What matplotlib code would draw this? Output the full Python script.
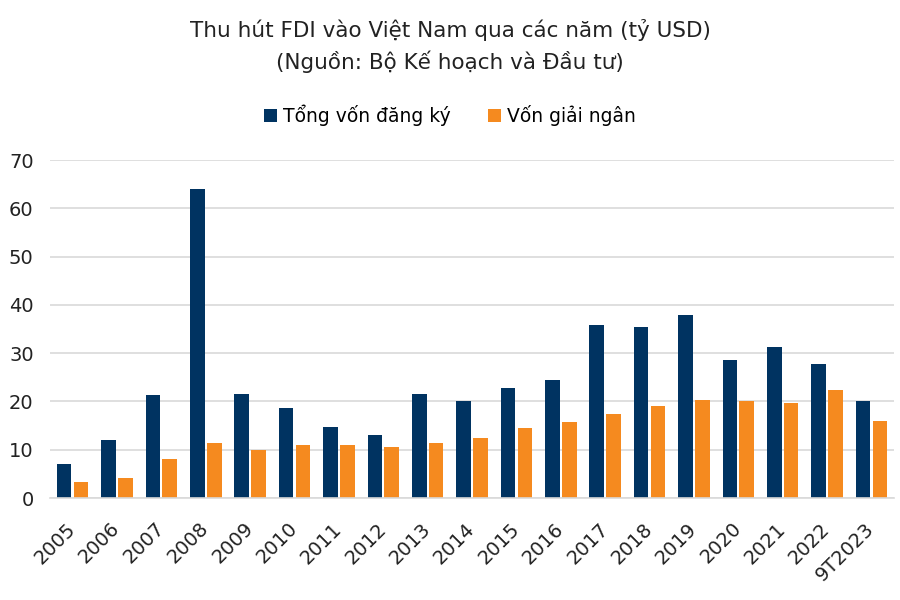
import numpy as np
import matplotlib.pyplot as plt

# Dữ liệu (tỷ USD)
years = ['2005', '2006', '2007', '2008', '2009', '2010', '2011', '2012', '2013',
         '2014', '2015', '2016', '2017', '2018', '2019', '2020', '2021', '2022', '9T2023']
dang_ky = [7.0, 12.0, 21.3, 64.0, 21.5, 18.6, 14.7, 13.0, 21.6,
           20.2, 22.8, 24.4, 35.9, 35.5, 38.0, 28.5, 31.2, 27.7, 20.2]
giai_ngan = [3.3, 4.1, 8.0, 11.5, 10.0, 11.0, 11.0, 10.5, 11.5,
             12.5, 14.5, 15.8, 17.5, 19.1, 20.4, 20.0, 19.7, 22.4, 15.9]

plt.rcParams['font.family'] = ['DejaVu Sans']

fig = plt.figure(figsize=(9, 6), dpi=100)
ax = fig.add_axes([0.056, 0.17, 0.937, 0.563])

x = np.arange(len(years))
w = 0.33
ax.bar(x - 0.19, dang_ky, w, color='#003361', label='Tổng vốn đăng ký')
ax.bar(x + 0.19, giai_ngan, w, color='#F58A1F', label='Vốn giải ngân')

ax.set_xlim(-0.5, len(years) - 0.5)
ax.set_ylim(0, 70)
ax.set_yticks(range(0, 71, 10))
ax.yaxis.grid(True, color='#d9d9d9', linewidth=1.2)
ax.set_axisbelow(True)
for s in ['top', 'right', 'left']:
    ax.spines[s].set_visible(False)
ax.spines['bottom'].set_color('#d9d9d9')
ax.spines['bottom'].set_linewidth(1.2)
ax.tick_params(axis='both', length=0, labelsize=14, colors='#222222')
ax.tick_params(axis='y', pad=12)
ax.tick_params(axis='x', pad=20)
ax.set_xticks(x)
ax.set_xticklabels(years, rotation=45, ha='right', va='center', rotation_mode='anchor')

fig.text(0.5, 0.95, 'Thu hút FDI vào Việt Nam qua các năm (tỷ USD)',
         ha='center', va='center', fontsize=15.5, color='#222222')
fig.text(0.5, 0.897, '(Nguồn: Bộ Kế hoạch và Đầu tư)',
         ha='center', va='center', fontsize=15.5, color='#222222')

fig.legend(loc='center', bbox_to_anchor=(0.5, 0.808), ncol=2, frameon=False,
           fontsize=13.5, handlelength=0.7, handleheight=0.7, handletextpad=0.3,
           columnspacing=2.0)

plt.savefig('out.png', dpi=100)
